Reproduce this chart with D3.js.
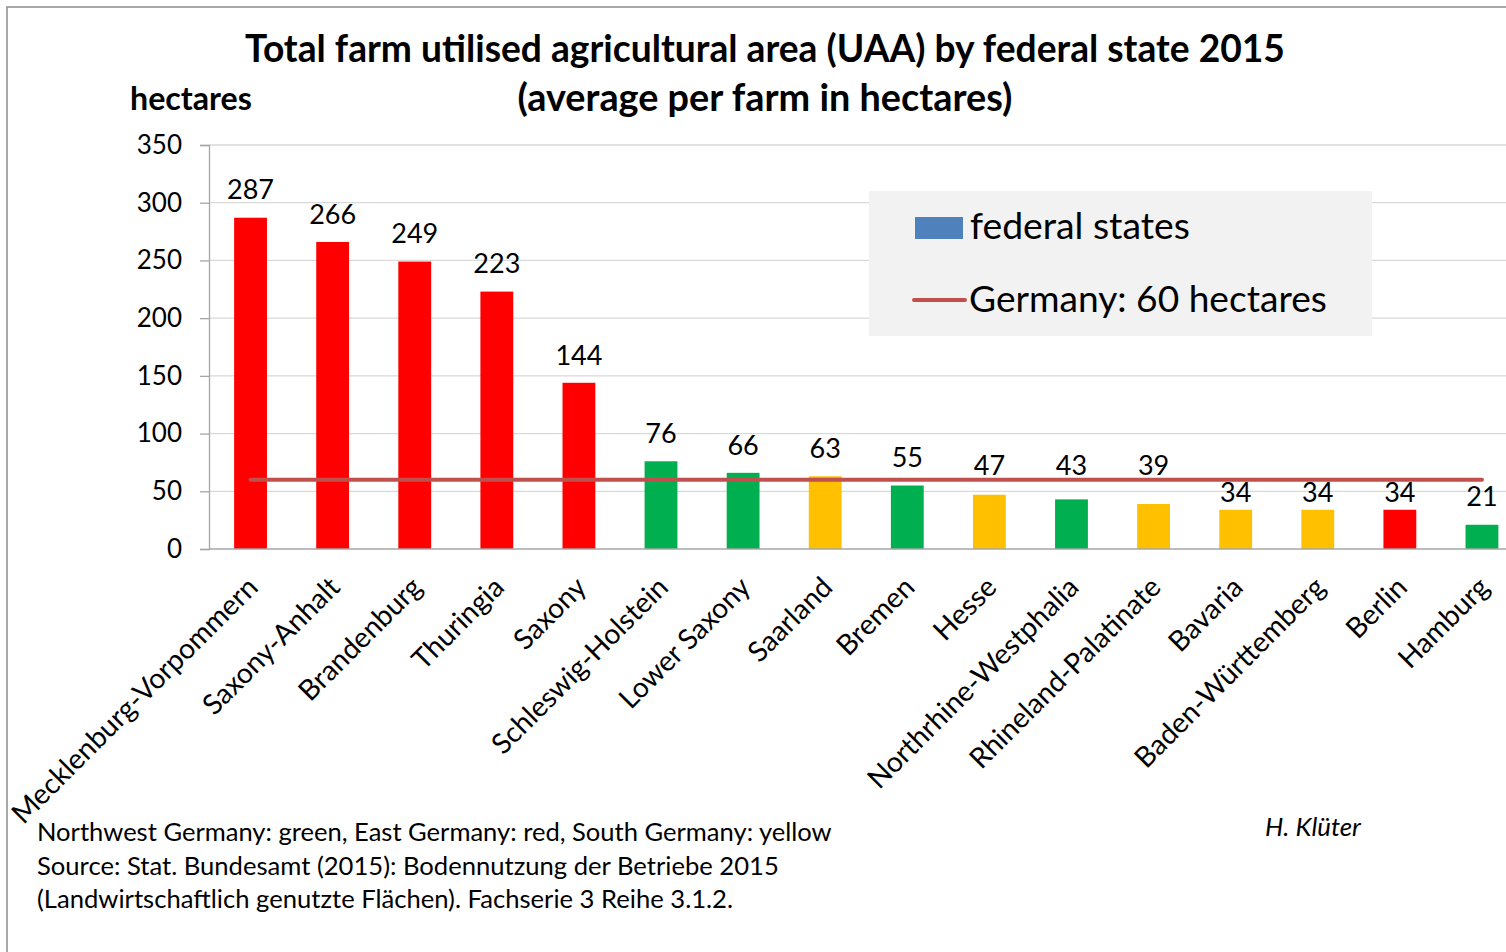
<!DOCTYPE html>
<html>
<head>
<meta charset="utf-8">
<script src="https://cdn.jsdelivr.net/npm/d3@7"></script>
<style>
body { margin: 0; background: #fff; }
svg text { font-family: Lato, "Open Sans", sans-serif; fill: #000; }
</style>
</head>
<body>
<script>
//Width and height
var w = 1506;
var h = 952;

// data
var states = ["Mecklenburg-Vorpommern", "Saxony-Anhalt", "Brandenburg", "Thuringia", "Saxony",
  "Schleswig-Holstein", "Lower Saxony", "Saarland", "Bremen", "Hesse", "Northrhine-Westphalia",
  "Rhineland-Palatinate", "Bavaria", "Baden-Württemberg", "Berlin", "Hamburg"];
var values = [287, 266, 249, 223, 144, 76, 66, 63, 55, 47, 43, 39, 34, 34, 34, 21];
var regions = ["east", "east", "east", "east", "east", "northwest", "northwest", "south",
  "northwest", "south", "northwest", "south", "south", "south", "east", "northwest"];
var regionColors = {east: "#FF0000", northwest: "#00B050", south: "#FFC000"};
var germanyAvg = 60;
var yTicks = [0, 50, 100, 150, 200, 250, 300, 350];

var titleLines = ["Total farm utilised agricultural area (UAA) by federal state 2015",
  "(average per farm in hectares)"];
var yLabel = "hectares";
var legendItems = ["federal states", "Germany: 60 hectares"];
var footnotes = ["Northwest Germany: green, East Germany: red, South Germany: yellow",
  "Source: Stat. Bundesamt (2015):  Bodennutzung der Betriebe 2015",
  "(Landwirtschaftlich genutzte Flächen). Fachserie 3 Reihe 3.1.2."];
var author = "H. Klüter";

// scale font-size so the text gets a given width
function fit(sel, width) {
  var len = sel.node().getComputedTextLength();
  var fs = parseFloat(sel.style("font-size"));
  sel.style("font-size", (fs * width / len) + "px");
}

var svg = d3.select("body")
  .append("svg")
  .attr("width", w)
  .attr("height", h);

// outer frame
svg.append("rect")
  .attr("x", 7).attr("y", 7)
  .attr("width", w + 20).attr("height", h + 20)
  .attr("fill", "#fff")
  .attr("stroke", "#8c8c8c")
  .attr("stroke-width", 1.5);

var x = d3.scaleBand()
  .domain(states)
  .range([209.5, 1523])
  .paddingInner(0.6)
  .paddingOuter(0.3);

var y = d3.scaleLinear()
  .domain([0, 350])
  .range([549, 145]);

// gridlines
svg.append("g")
  .selectAll("line")
  .data(yTicks.slice(1))
  .enter()
  .append("line")
  .attr("x1", 209).attr("x2", w)
  .attr("y1", function(d) { return y(d); })
  .attr("y2", function(d) { return y(d); })
  .attr("stroke", "#d9d9d9")
  .attr("stroke-width", 1.3);

// y axis
var yAxis = svg.append("g")
  .attr("transform", "translate(209,0)")
  .call(d3.axisLeft(y).tickValues(yTicks).tickSize(9).tickPadding(18));
yAxis.selectAll("path, line").attr("stroke", "#a6a6a6").attr("stroke-width", 1.3);
yAxis.selectAll("text")
  .style("font-size", "26px")
  .style("font-family", "Lato, sans-serif")
  .attr("fill", "#000");

// bars
svg.append("g")
  .selectAll("rect")
  .data(states)
  .enter()
  .append("rect")
  .attr("x", function(d) { return x(d); })
  .attr("width", x.bandwidth())
  .attr("y", function(d, i) { return y(values[i]); })
  .attr("height", function(d, i) { return y(0) - y(values[i]); })
  .attr("fill", function(d, i) { return regionColors[regions[i]]; });

// x baseline
svg.append("line")
  .attr("x1", 209).attr("x2", w)
  .attr("y1", y(0)).attr("y2", y(0))
  .attr("stroke", "#a6a6a6")
  .attr("stroke-width", 1.5);

// Germany average line
var first = states[0], last = states[states.length - 1];
svg.append("line")
  .attr("x1", x(first) + x.bandwidth() / 2)
  .attr("x2", x(last) + x.bandwidth() / 2)
  .attr("y1", y(germanyAvg)).attr("y2", y(germanyAvg))
  .attr("stroke", "#C0504D")
  .attr("stroke-width", 4)
  .attr("stroke-linecap", "round");

// value labels, moved off the average line where they would touch it
var lineY = y(germanyAvg);
function labelCenter(v) {
  var c = y(v) - 28;
  if (c + 11 > lineY - 2 && c - 11 < lineY + 2) {
    var up = lineY - 14, down = lineY + 13;
    c = (c - up < down - c) ? up : down;
  }
  return c;
}
svg.append("g")
  .selectAll("text")
  .data(states)
  .enter()
  .append("text")
  .attr("x", function(d) { return x(d) + x.bandwidth() / 2; })
  .attr("y", function(d, i) { return labelCenter(values[i]); })
  .attr("dy", "0.36em")
  .attr("text-anchor", "middle")
  .style("font-size", "27px")
  .text(function(d, i) { return values[i]; });

// category labels
var catLabels = svg.append("g")
  .selectAll("text")
  .data(states)
  .enter()
  .append("text")
  .attr("transform", function(d) {
    return "translate(" + (x(d) + x.bandwidth() / 2 + 9) + ",589) rotate(-45)";
  })
  .attr("text-anchor", "end")
  .style("font-size", "26px")
  .text(function(d) { return d; });
var catLen = catLabels.node().getComputedTextLength();
catLabels.style("font-size", (26 * 334 / catLen) + "px");

// title
var t1 = svg.append("text")
  .attr("x", 765).attr("y", 62)
  .attr("text-anchor", "middle")
  .style("font-weight", "bold")
  .style("font-size", "32px")
  .text(titleLines[0]);
fit(t1, 1040);
var t2 = svg.append("text")
  .attr("x", 765).attr("y", 111)
  .attr("text-anchor", "middle")
  .style("font-weight", "bold")
  .style("font-size", "32px")
  .text(titleLines[1]);
fit(t2, 495);

var yl = svg.append("text")
  .attr("x", 130).attr("y", 110)
  .style("font-weight", "bold")
  .style("font-size", "28px")
  .text(yLabel);
fit(yl, 122);

// legend
var legend = svg.append("g");
legend.append("rect")
  .attr("x", 869).attr("y", 191)
  .attr("width", 503).attr("height", 145)
  .attr("fill", "#f2f2f2");
legend.append("rect")
  .attr("x", 915).attr("y", 217)
  .attr("width", 48).attr("height", 22)
  .attr("fill", "#4F81BD");
legend.append("line")
  .attr("x1", 914).attr("x2", 965)
  .attr("y1", 300).attr("y2", 300)
  .attr("stroke", "#C0504D")
  .attr("stroke-width", 4)
  .attr("stroke-linecap", "round");
var lg1 = legend.append("text")
  .attr("x", 970).attr("y", 239)
  .style("font-size", "32px")
  .text(legendItems[0]);
fit(lg1, 220);
var lg2 = legend.append("text")
  .attr("x", 969).attr("y", 312)
  .style("font-size", "32px")
  .text(legendItems[1]);
fit(lg2, 358);

// footnotes
var fnWidths = [795, 742, 696];
footnotes.forEach(function(s, i) {
  var t = svg.append("text")
    .attr("x", 37).attr("y", 841 + i * 33.5)
    .style("font-size", "24px")
    .text(s);
  fit(t, fnWidths[i]);
});

var au = svg.append("text")
  .attr("x", 1265).attr("y", 836)
  .style("font-style", "italic")
  .style("font-size", "24px")
  .text(author);
fit(au, 96);
</script>
</body>
</html>
